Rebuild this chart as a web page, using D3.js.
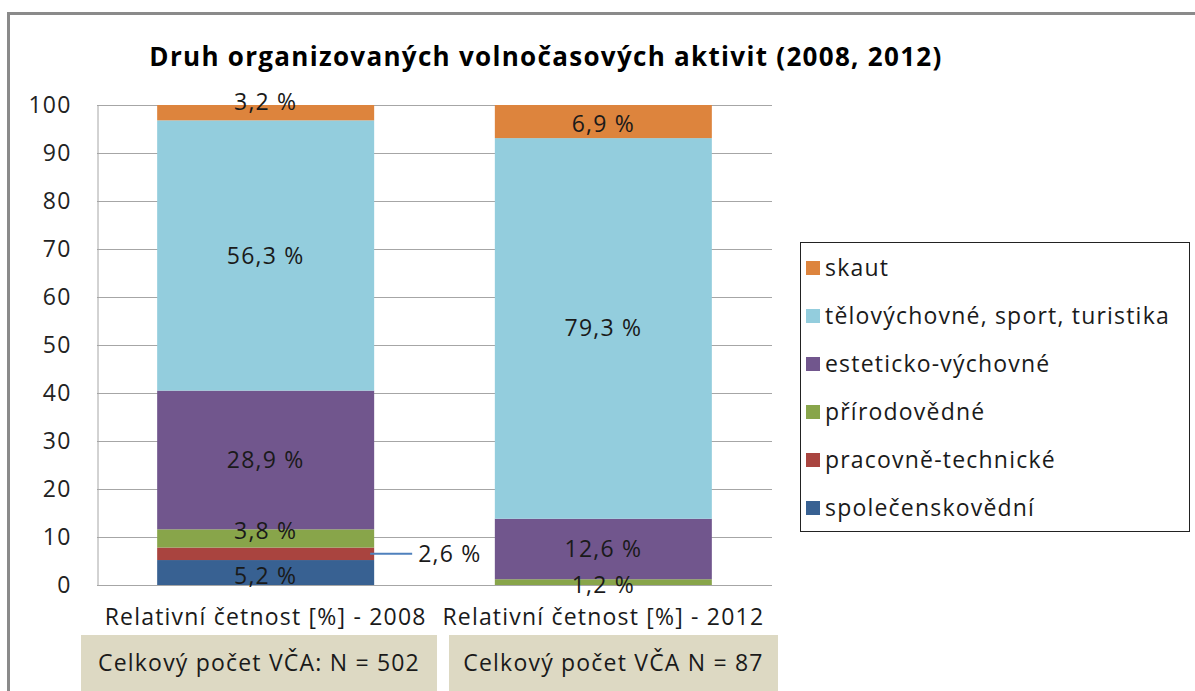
<!DOCTYPE html>
<html>
<head>
<meta charset="utf-8">
<script src="https://cdn.jsdelivr.net/npm/d3@7"></script>
<style>
  html, body { margin: 0; padding: 0; background: #fff; }
  svg { display: block; font-family: "Open Sans", "Noto Sans", sans-serif; }
  svg text { letter-spacing: 1.2px; }
</style>
</head>
<body>
<svg id="chart" width="1195" height="691"></svg>
<script>
// ---- data ----
const categories = ["Relativní četnost [%] - 2008", "Relativní četnost [%] - 2012"];
const seriesNames = ["společenskovědní", "pracovně-technické", "přírodovědné", "esteticko-výchovné", "tělovýchovné, sport, turistika", "skaut"];
const values2008 = [5.2, 2.6, 3.8, 28.9, 56.3, 3.2];
const values2012 = [0, 0, 1.2, 12.6, 79.3, 6.9];
const seriesColors = ["#386192", "#a9443f", "#88a54a", "#71568d", "#93cddd", "#dd843d"];
const yTicks = [0, 10, 20, 30, 40, 50, 60, 70, 80, 90, 100];
const boxTexts = ["Celkový počet VČA: N = 502", "Celkový počet VČA N = 87"];
const title = "Druh organizovaných volnočasových aktivit (2008, 2012)";

const FONT = "'Open Sans', 'Noto Sans', sans-serif";
const FS = 23;

const svg = d3.select("#chart");

// outer border
svg.append("path").attr("d", "M8.5,700 V13.5 H1200")
  .attr("fill", "none").attr("stroke", "#8a8a8a").attr("stroke-width", 3);

const plot = {left: 97, right: 772, top: 105, bottom: 585};
const x = d3.scaleBand().domain(categories).range([plot.left, plot.right]).paddingInner(0.357).paddingOuter(0.178);
const y = d3.scaleLinear().domain([0, 100]).range([plot.bottom, plot.top]);

// grid
svg.append("g").selectAll("line").data(yTicks).join("line")
  .attr("x1", plot.left).attr("x2", plot.right)
  .attr("y1", d => Math.round(y(d)) + 0.5).attr("y2", d => Math.round(y(d)) + 0.5)
  .attr("stroke", "#a6a6a6").attr("stroke-width", 1);

// y axis
const yAxis = svg.append("g").attr("transform", `translate(${plot.left + 0.5},0)`)
  .call(d3.axisLeft(y).tickValues(yTicks).tickSize(0).tickPadding(26));
yAxis.select(".domain").attr("stroke", "#a6a6a6");
yAxis.selectAll("text").attr("font-size", FS).attr("fill", "#222").attr("font-family", FONT);

// stacked data
const rows = categories.map((c, i) => {
  const o = {cat: c};
  const vals = i === 0 ? values2008 : values2012;
  seriesNames.forEach((s, j) => o[s] = vals[j]);
  return o;
});
const stack = d3.stack().keys(seriesNames)(rows);

const bw = 217;
const barX = d => x(d.data.cat) + x.bandwidth() / 2 - bw / 2;

svg.append("g").selectAll("g").data(stack).join("g")
  .attr("fill", (d, i) => seriesColors[i])
  .selectAll("rect").data(d => d.filter(p => p[1] - p[0] > 0)).join("rect")
  .attr("x", barX).attr("width", bw)
  .attr("y", d => y(d[1])).attr("height", d => y(d[0]) - y(d[1]));

// bar labels (nudges in px to mimic original placement)
const nudge = {
  "0|0": 3, "0|2": -7, "0|5": -11,
  "1|2": 3, "1|5": 2
};
const fmt = v => d3.format(".1f")(v).replace(".", ",") + " %";
const labels = svg.append("g").attr("font-size", FS).attr("fill", "#1a1a1a").attr("text-anchor", "middle");
stack.forEach((s, si) => {
  s.forEach((p, ci) => {
    const v = p[1] - p[0];
    if (v <= 0) return;
    const cx = x(p.data.cat) + x.bandwidth() / 2;
    const cy = (y(p[0]) + y(p[1])) / 2 + (nudge[ci + "|" + si] || 0);
    if (ci === 0 && si === 1) {
      const xr = barX(p);
      labels.append("line").attr("x1", xr + bw - 4).attr("x2", xr + bw + 38)
        .attr("y1", cy).attr("y2", cy).attr("stroke", "#4f81bd").attr("stroke-width", 2);
      labels.append("text").attr("x", xr + bw + 44).attr("y", cy).attr("dy", "0.35em")
        .attr("text-anchor", "start").text(fmt(v));
    } else {
      labels.append("text").attr("x", cx).attr("y", cy).attr("dy", "0.35em").text(fmt(v));
    }
  });
});

// category labels
svg.append("g").selectAll("text").data(categories).join("text")
  .attr("x", d => x(d) + x.bandwidth() / 2).attr("y", 617).attr("dy", "0.35em")
  .attr("text-anchor", "middle").attr("font-size", FS).attr("fill", "#1a1a1a").text(d => d);

// bottom boxes
const boxes = [{x0: 81, x1: 437}, {x0: 449, x1: 778}];
const bg = svg.append("g");
boxes.forEach((b, i) => {
  bg.append("rect").attr("x", b.x0).attr("y", 635).attr("width", b.x1 - b.x0).attr("height", 60).attr("fill", "#ddd9c3");
  bg.append("text").attr("x", (b.x0 + b.x1) / 2).attr("y", 663).attr("dy", "0.35em")
    .attr("text-anchor", "middle").attr("font-size", FS).attr("fill", "#1a1a1a").text(boxTexts[i]);
});

// title
svg.append("text").attr("x", 546).attr("y", 57).attr("dy", "0.35em").attr("text-anchor", "middle")
  .attr("font-size", 26).attr("font-weight", "bold").attr("fill", "#000")
  .style("letter-spacing", "1.3px").text(title);

// legend
const lg = svg.append("g");
lg.append("rect").attr("x", 800.5).attr("y", 242.5).attr("width", 389).attr("height", 289)
  .attr("fill", "#fff").attr("stroke", "#222").attr("stroke-width", 1);
const legendOrder = seriesNames.map((s, i) => i).reverse();
const ly = d3.scalePoint().domain(legendOrder).range([268, 508]);
legendOrder.forEach(i => {
  lg.append("rect").attr("x", 806).attr("y", ly(i) - 7).attr("width", 14).attr("height", 14).attr("fill", seriesColors[i]);
  lg.append("text").attr("x", 825).attr("y", ly(i)).attr("dy", "0.35em").attr("font-size", FS).attr("fill", "#1a1a1a").text(seriesNames[i]);
});
</script>
</body>
</html>
